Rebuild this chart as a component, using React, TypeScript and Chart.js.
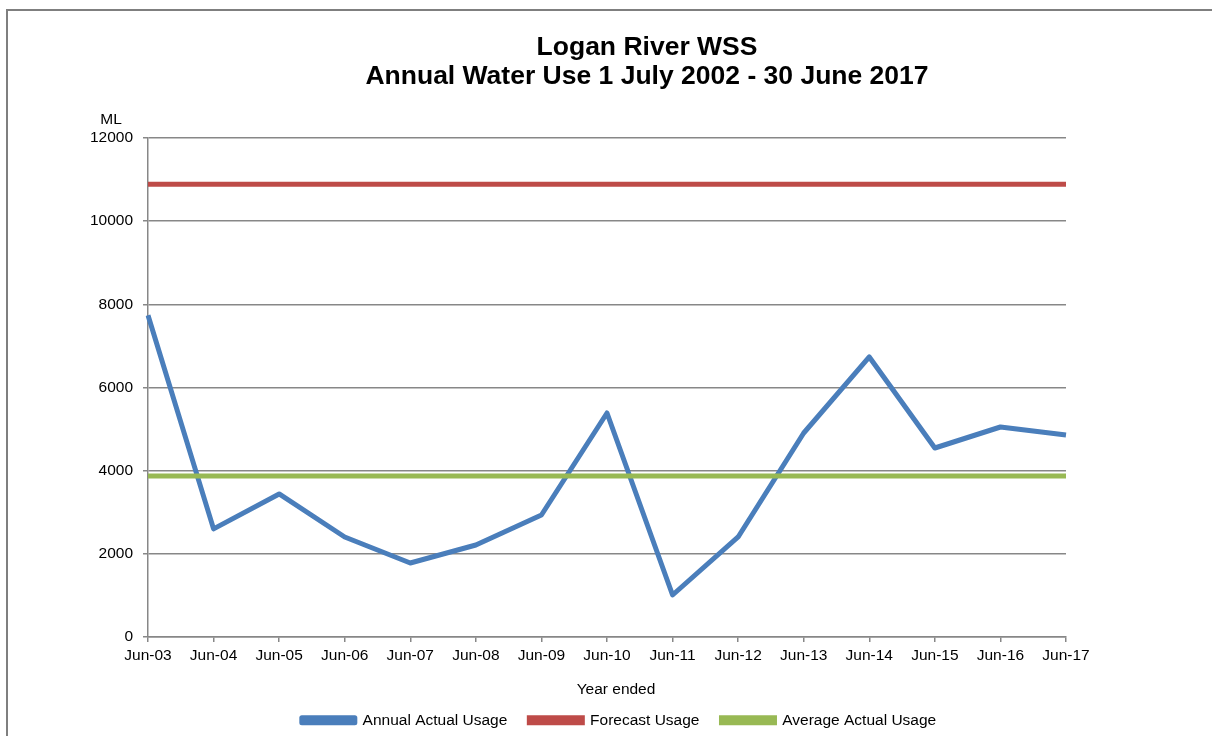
import React, { useEffect, useRef } from "react";
import { Chart, registerables } from "chart.js";

Chart.register(...registerables);

const categories = [
  "Jun-03", "Jun-04", "Jun-05", "Jun-06", "Jun-07", "Jun-08", "Jun-09", "Jun-10",
  "Jun-11", "Jun-12", "Jun-13", "Jun-14", "Jun-15", "Jun-16", "Jun-17",
];

const annualActualUsage = [7740, 2600, 3440, 2405, 1780, 2213, 2934, 5387, 1010, 2405, 4906, 6734, 4545, 5050, 4858];
const forecastUsage = [10890, 10890, 10890, 10890, 10890, 10890, 10890, 10890, 10890, 10890, 10890, 10890, 10890, 10890, 10890];
const averageActualUsage = [3870, 3870, 3870, 3870, 3870, 3870, 3870, 3870, 3870, 3870, 3870, 3870, 3870, 3870, 3870];

const titleLines = ["Logan River WSS", "Annual Water Use 1 July 2002 - 30 June 2017"];
const yUnitLabel = "ML";
const xAxisTitle = "Year ended";

const FONT = "'Liberation Sans', Arial, Helvetica, sans-serif";
const GRID = "#878787";

const textPlugin = {
  id: "customText",
  afterDraw(chart: any) {
    const ctx = chart.ctx;
    ctx.save();
    ctx.fillStyle = "#000";
    ctx.textAlign = "center";
    ctx.textBaseline = "middle";
    ctx.font = `bold 26.5px ${FONT}`;
    ctx.fillText(titleLines[0], 647, 48);
    ctx.fillText(titleLines[1], 647, 77);
    ctx.font = `15.5px ${FONT}`;
    ctx.fillText(yUnitLabel, 111, 120);
    ctx.fillText(xAxisTitle, 616, 690);
    ctx.restore();
  },
};

export default function App() {
  const ref = useRef<HTMLCanvasElement | null>(null);
  useEffect(() => {
    if (!ref.current) return;
    const chart = new Chart(ref.current, {
      type: "line",
      data: {
        labels: categories,
        datasets: [
          {
            label: "Annual Actual Usage",
            data: annualActualUsage,
            borderColor: "#4A7EBB",
            backgroundColor: "#4A7EBB",
            borderWidth: 5,
            pointRadius: 0,
            tension: 0,
            borderJoinStyle: "round",
            order: 3,
          },
          {
            label: "Forecast Usage",
            data: forecastUsage,
            borderColor: "#BE4B48",
            backgroundColor: "#BE4B48",
            borderWidth: 5,
            pointRadius: 0,
            order: 2,
          },
          {
            label: "Average Actual Usage",
            data: averageActualUsage,
            borderColor: "#98B954",
            backgroundColor: "#98B954",
            borderWidth: 5,
            pointRadius: 0,
            order: 1,
          },
        ],
      },
      options: {
        responsive: false,
        animation: false,
        layout: { padding: { top: 138, left: 26, right: 0, bottom: -2 } },
        plugins: {
          title: { display: false },
          tooltip: { enabled: false },
          legend: {
            position: "bottom",
            labels: {
              boxWidth: 53,
              boxHeight: 5,
              padding: 22,
              color: "#000",
              font: { family: FONT, size: 15.5, lineHeight: 1.0 },
              sort: (a: any, b: any) => a.datasetIndex - b.datasetIndex,
            },
          },
        },
        scales: {
          x: {
            offset: false,
            grid: {
              drawOnChartArea: false,
              drawTicks: true,
              tickLength: 5,
              color: GRID,
              lineWidth: 1.5,
            },
            border: { color: GRID, width: 1.5 },
            ticks: {
              color: "#000",
              font: { family: FONT, size: 15.5 },
              padding: 4,
              maxRotation: 0,
              autoSkip: false,
            },
            afterFit: (s: any) => {
              s.height = 53.5;
            },
          },
          y: {
            min: 0,
            max: 12000,
            grid: { color: GRID, lineWidth: 1.5, tickLength: 5 },
            border: { color: GRID, width: 1.5 },
            ticks: {
              stepSize: 2000,
              color: "#000",
              font: { family: FONT, size: 15.5 },
              padding: 10,
              callback: (v: any) => String(v),
            },
            afterFit: (s: any) => {
              s.width = 122;
            },
          },
          y2: {
            position: "right",
            display: true,
            grid: { display: false },
            border: { display: false },
            ticks: { display: false },
            afterFit: (s: any) => {
              s.width = 146;
            },
          },
        },
      },
      plugins: [textPlugin],
    });
    return () => chart.destroy();
  }, []);

  return (
    <div style={{ position: "fixed", left: 0, top: 0, width: 1212, height: 736, overflow: "hidden", background: "#fff" }}>
      <div
        style={{
          position: "absolute",
          left: 6,
          top: 9,
          width: 1300,
          height: 800,
          border: "2.5px solid #7f7f7f",
          boxSizing: "border-box",
        }}
      />
      <canvas ref={ref} width={1212} height={736} style={{ position: "absolute", left: 0, top: 0, display: "block" }} />
    </div>
  );
}
